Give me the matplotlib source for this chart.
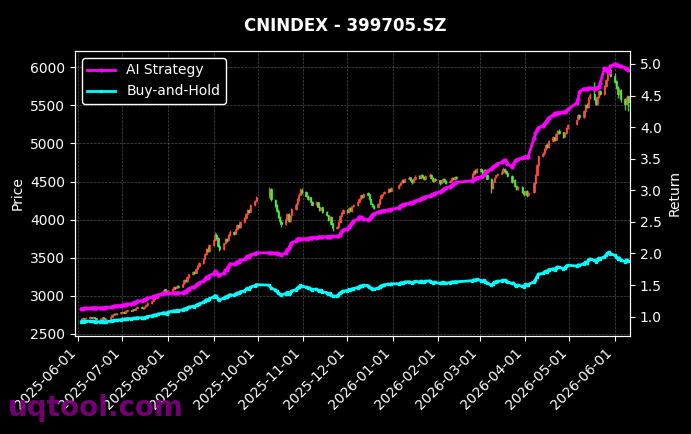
import numpy as np
import pandas as pd
import matplotlib
matplotlib.use("Agg")
import matplotlib.pyplot as plt
import matplotlib.dates as mdates

# trading calendar (SZ exchange holidays removed)
start_date = "2025-06-03"
end_date = "2026-06-10"
holidays = [
    "2025-10-01", "2025-10-02", "2025-10-03", "2025-10-06", "2025-10-07", "2025-10-08",
    "2026-01-01", "2026-01-02",
    "2026-02-16", "2026-02-17", "2026-02-18", "2026-02-19", "2026-02-20", "2026-02-23",
    "2026-04-06", "2026-05-01", "2026-05-04", "2026-05-05",
]

# daily OHLC, month by month
opens = [
    # 2025-06
    2683, 2694, 2709, 2703, 2715, 2725, 2712, 2721, 2705, 2694, 2702, 2716, 2706, 2691, 2700, 2727, 2751, 2763, 2757, 2771,
    # 2025-07
    2786, 2793, 2781, 2799, 2813, 2805, 2827, 2819, 2841, 2854, 2847, 2837, 2861, 2883, 2906, 2937, 2959, 2991, 2979, 3022, 3049, 3084, 3067,
    # 2025-08
    3041, 3059, 3092, 3113, 3106, 3129, 3120, 3163, 3209, 3196, 3247, 3282, 3319, 3303, 3357, 3392, 3429, 3488, 3549, 3613, 3590,
    # 2025-09
    3665, 3736, 3803, 3765, 3652, 3613, 3689, 3746, 3727, 3799, 3843, 3817, 3880, 3926, 3903, 3969, 4019, 4077, 4126, 4103, 4189, 4242,
    # 2025-10
    4305, 4400, 4262, 4188, 4118, 4035, 3975, 3948, 4015, 4070, 3982, 4055, 4136, 4200, 4268, 4330, 4395,
    # 2025-11
    4360, 4315, 4272, 4292, 4238, 4195, 4228, 4172, 4130, 4160, 4098, 4060, 3990, 4038, 3950, 3884, 3905, 3970, 4045, 4090,
    # 2025-12
    4128, 4100, 4150, 4118, 4176, 4190, 4238, 4277, 4320, 4298, 4344, 4332, 4266, 4210, 4178, 4160, 4212, 4278, 4320, 4344, 4367, 4400, 4382,
    # 2026-01
    4415, 4455, 4488, 4514, 4497, 4540, 4554, 4522, 4490, 4532, 4568, 4547, 4584, 4562, 4530, 4577, 4592, 4550, 4504, 4538,
    # 2026-02
    4515, 4477, 4500, 4534, 4512, 4488, 4514, 4547, 4530, 4562, 4552, 4600, 4644, 4622,
    # 2026-03
    4668, 4640, 4612, 4654, 4590, 4538, 4415, 4497, 4555, 4582, 4604, 4627, 4662, 4645, 4612, 4578, 4500, 4525, 4448, 4405, 4430, 4368,
    # 2026-04
    4342, 4375, 4320, 4360, 4485, 4592, 4715, 4838, 4870, 4928, 4982, 4955, 5038, 5085, 5048, 5122, 5170, 5145, 5092, 5138, 5200,
    # 2026-05
    5250, 5315, 5370, 5348, 5430, 5505, 5478, 5592, 5645, 5590, 5522, 5612, 5688, 5655, 5750, 5838, 5908, 5970,
    # 2026-06
    5890, 5815, 5738, 5652, 5705, 5590, 5522, 5618,
]
highs = [
    2703, 2716, 2714, 2721, 2734, 2728, 2728, 2725, 2711, 2708, 2722, 2719, 2710, 2705, 2732, 2757, 2769, 2770, 2776, 2792,
    2800, 2798, 2805, 2820, 2818, 2832, 2833, 2846, 2862, 2861, 2852, 2866, 2889, 2913, 2944, 2968, 2998, 3002, 3029, 3058, 3092, 3095, 3078,
    3072, 3099, 3124, 3121, 3137, 3140, 3170, 3219, 3226, 3255, 3292, 3330, 3331, 3365, 3402, 3440, 3498, 3562, 3625, 3640, 3676,
    3750, 3835, 3820, 3772, 3668, 3700, 3760, 3758, 3810, 3858, 3855, 3892, 3940, 3938, 3980, 4032, 4090, 4140, 4138, 4200, 4255, 4310,
    4430, 4415, 4275, 4210, 4135, 4050, 3995, 4030, 4088, 4082, 4065, 4150, 4215, 4282, 4345, 4420, 4410,
    4370, 4325, 4305, 4302, 4245, 4240, 4236, 4180, 4172, 4168, 4110, 4066, 4050, 4045, 3958, 3918, 3980, 4055, 4100, 4142,
    4140, 4165, 4162, 4185, 4200, 4250, 4288, 4330, 4328, 4355, 4360, 4340, 4275, 4222, 4190, 4225, 4290, 4332, 4356, 4380, 4412, 4415, 4428,
    4465, 4498, 4528, 4530, 4552, 4568, 4565, 4530, 4545, 4580, 4582, 4598, 4600, 4570, 4588, 4610, 4602, 4558, 4550, 4552,
    4525, 4510, 4545, 4548, 4522, 4525, 4558, 4555, 4572, 4575, 4612, 4655, 4660, 4680,
    4680, 4655, 4665, 4660, 4598, 4545, 4510, 4565, 4592, 4615, 4640, 4690, 4672, 4652, 4620, 4585, 4540, 4530, 4460, 4442, 4438, 4380,
    4395, 4388, 4370, 4498, 4605, 4728, 4850, 4885, 4940, 4995, 5010, 5050, 5098, 5090, 5135, 5182, 5188, 5150, 5148, 5212, 5262,
    5325, 5385, 5392, 5442, 5518, 5528, 5605, 5660, 5805, 5598, 5625, 5700, 5702, 5762, 5852, 5935, 6044, 5985,
    5920, 5830, 5760, 5725, 5712, 5600, 5640, 5625,
]
lows = [
    2675, 2687, 2695, 2697, 2709, 2704, 2706, 2701, 2686, 2688, 2696, 2701, 2683, 2683, 2695, 2721, 2745, 2749, 2751, 2764,
    2778, 2774, 2776, 2793, 2798, 2799, 2812, 2813, 2835, 2840, 2829, 2830, 2854, 2877, 2899, 2929, 2951, 2970, 2972, 3014, 3041, 3058, 3035,
    3030, 3050, 3083, 3094, 3097, 3108, 3112, 3155, 3186, 3188, 3238, 3272, 3290, 3295, 3348, 3383, 3420, 3478, 3538, 3575, 3578,
    3652, 3722, 3750, 3638, 3590, 3602, 3676, 3712, 3716, 3785, 3802, 3806, 3868, 3890, 3892, 3958, 4008, 4066, 4088, 4095, 4178, 4230,
    4290, 4250, 4170, 4105, 4018, 3962, 3905, 3935, 4002, 3970, 3968, 4040, 4122, 4188, 4250, 4318, 4340,
    4300, 4262, 4260, 4226, 4186, 4188, 4160, 4120, 4122, 4085, 4045, 3978, 3982, 3935, 3845, 3872, 3895, 3960, 4035, 4078,
    4082, 4090, 4108, 4105, 4162, 4180, 4228, 4268, 4285, 4288, 4318, 4255, 4200, 4162, 4140, 4150, 4205, 4268, 4310, 4335, 4356, 4368, 4372,
    4405, 4445, 4478, 4482, 4488, 4530, 4508, 4472, 4480, 4522, 4532, 4538, 4550, 4515, 4520, 4565, 4535, 4490, 4495, 4505,
    4460, 4465, 4490, 4498, 4470, 4478, 4505, 4515, 4522, 4535, 4540, 4590, 4605, 4610,
    4625, 4598, 4602, 4575, 4528, 4345, 4405, 4488, 4545, 4572, 4595, 4618, 4630, 4598, 4562, 4480, 4490, 4430, 4385, 4395, 4350, 4308,
    4330, 4298, 4305, 4352, 4472, 4580, 4702, 4820, 4855, 4915, 4938, 4945, 5025, 5030, 5040, 5110, 5130, 5078, 5080, 5128, 5188,
    5238, 5302, 5330, 5335, 5418, 5460, 5465, 5578, 5572, 5505, 5508, 5600, 5638, 5642, 5738, 5825, 5895, 5870,
    5790, 5712, 5598, 5630, 5548, 5440, 5505, 5430,
]
closes = [
    2695, 2708, 2702, 2714, 2726, 2711, 2720, 2706, 2693, 2701, 2715, 2707, 2690, 2699, 2726, 2750, 2762, 2756, 2770, 2785,
    2792, 2780, 2798, 2812, 2804, 2826, 2818, 2840, 2853, 2846, 2836, 2860, 2882, 2905, 2936, 2958, 2990, 2978, 3021, 3048, 3083, 3066, 3042,
    3058, 3091, 3112, 3105, 3128, 3119, 3162, 3208, 3195, 3246, 3281, 3318, 3302, 3356, 3391, 3428, 3487, 3548, 3612, 3589, 3664,
    3735, 3802, 3764, 3651, 3612, 3688, 3745, 3726, 3798, 3842, 3816, 3879, 3925, 3902, 3968, 4018, 4076, 4125, 4102, 4188, 4241, 4296,
    4405, 4268, 4185, 4120, 4032, 3978, 3946, 4012, 4068, 3985, 4052, 4134, 4198, 4265, 4328, 4392, 4358,
    4312, 4275, 4290, 4236, 4198, 4225, 4170, 4132, 4158, 4096, 4058, 3992, 4035, 3948, 3886, 3902, 3968, 4042, 4088, 4126,
    4098, 4152, 4120, 4174, 4188, 4236, 4275, 4318, 4296, 4342, 4330, 4268, 4212, 4176, 4158, 4210, 4276, 4318, 4342, 4365, 4398, 4380, 4412,
    4452, 4486, 4512, 4495, 4538, 4552, 4520, 4488, 4530, 4566, 4545, 4582, 4560, 4528, 4575, 4590, 4548, 4502, 4536, 4518,
    4475, 4498, 4532, 4510, 4486, 4512, 4545, 4528, 4560, 4548, 4598, 4642, 4620, 4665,
    4638, 4610, 4652, 4588, 4540, 4412, 4495, 4552, 4580, 4602, 4625, 4660, 4642, 4610, 4575, 4498, 4522, 4445, 4402, 4428, 4365, 4340,
    4372, 4318, 4356, 4482, 4590, 4712, 4835, 4868, 4925, 4980, 4952, 5036, 5082, 5045, 5120, 5168, 5142, 5090, 5135, 5198, 5246,
    5312, 5368, 5345, 5428, 5502, 5475, 5590, 5642, 5588, 5520, 5610, 5685, 5652, 5748, 5836, 5905, 5968, 5892,
    5812, 5735, 5650, 5702, 5588, 5520, 5615, 5548,
]

# cumulative return curves
ai_strategy = [
    1.125, 1.128, 1.130, 1.132, 1.134, 1.135, 1.136, 1.137, 1.137, 1.139, 1.142, 1.143, 1.143, 1.145, 1.150, 1.158, 1.164, 1.166, 1.170, 1.176,
    1.180, 1.182, 1.190, 1.198, 1.204, 1.214, 1.220, 1.232, 1.245, 1.252, 1.256, 1.268, 1.282, 1.294, 1.308, 1.318, 1.332, 1.330, 1.345, 1.356, 1.372, 1.374, 1.370,
    1.368, 1.370, 1.372, 1.372, 1.374, 1.372, 1.380, 1.395, 1.392, 1.420, 1.445, 1.470, 1.468, 1.495, 1.515, 1.535, 1.560, 1.590, 1.620, 1.612, 1.650,
    1.680, 1.715, 1.700, 1.665, 1.655, 1.690, 1.735, 1.745, 1.790, 1.835, 1.830, 1.850, 1.870, 1.865, 1.890, 1.910, 1.935, 1.955, 1.950, 1.975, 1.995, 2.010,
    2.010, 2.008, 2.005, 2.000, 1.995, 1.985, 1.975, 2.010, 2.060, 2.080, 2.120, 2.165, 2.200, 2.225, 2.235, 2.230, 2.232,
    2.232, 2.235, 2.240, 2.245, 2.250, 2.252, 2.255, 2.258, 2.262, 2.262, 2.265, 2.265, 2.268, 2.270, 2.270, 2.272, 2.275, 2.300, 2.340, 2.370,
    2.390, 2.420, 2.450, 2.480, 2.510, 2.540, 2.580, 2.575, 2.555, 2.540, 2.535, 2.545, 2.580, 2.610, 2.630, 2.655, 2.660, 2.665, 2.675, 2.680, 2.690, 2.695, 2.700,
    2.720, 2.745, 2.770, 2.775, 2.785, 2.792, 2.800, 2.805, 2.815, 2.830, 2.850, 2.865, 2.880, 2.885, 2.895, 2.910, 2.925, 2.935, 2.945, 2.955,
    2.975, 2.990, 3.010, 3.025, 3.040, 3.060, 3.080, 3.095, 3.110, 3.125, 3.150, 3.175, 3.185, 3.200,
    3.215, 3.230, 3.250, 3.280, 3.300, 3.340, 3.370, 3.385, 3.400, 3.420, 3.440, 3.465, 3.480, 3.455, 3.420, 3.370, 3.410, 3.460, 3.480, 3.490, 3.510, 3.525,
    3.530, 3.528, 3.532, 3.820, 3.900, 3.950, 3.990, 4.020, 4.050, 4.080, 4.110, 4.150, 4.190, 4.220, 4.215, 4.225, 4.230, 4.235, 4.240, 4.255, 4.280,
    4.380, 4.450, 4.560, 4.610, 4.605, 4.600, 4.612, 4.618, 4.610, 4.620, 4.615, 4.640, 4.700, 4.930, 4.925, 4.890, 4.880, 4.960,
    5.000, 4.990, 4.980, 4.970, 4.960, 4.940, 4.920, 4.900,
]
buy_and_hold = [
    0.919, 0.924, 0.922, 0.926, 0.930, 0.925, 0.928, 0.923, 0.919, 0.921, 0.926, 0.923, 0.918, 0.921, 0.930, 0.938, 0.942, 0.940, 0.945, 0.950,
    0.963, 0.959, 0.965, 0.970, 0.967, 0.974, 0.972, 0.979, 0.984, 0.981, 0.978, 0.986, 0.994, 1.002, 1.012, 1.020, 1.031, 1.027, 1.042, 1.051, 1.063, 1.057, 1.049,
    1.073, 1.085, 1.092, 1.089, 1.098, 1.094, 1.109, 1.126, 1.121, 1.139, 1.151, 1.164, 1.159, 1.178, 1.190, 1.203, 1.224, 1.245, 1.267, 1.259, 1.286,
    1.311, 1.334, 1.321, 1.281, 1.267, 1.294, 1.314, 1.307, 1.333, 1.348, 1.339, 1.361, 1.377, 1.369, 1.392, 1.410, 1.430, 1.447, 1.439, 1.469, 1.488, 1.507,
    1.498, 1.452, 1.423, 1.401, 1.371, 1.353, 1.342, 1.365, 1.384, 1.355, 1.378, 1.406, 1.428, 1.451, 1.472, 1.494, 1.482,
    1.467, 1.454, 1.459, 1.441, 1.428, 1.437, 1.418, 1.405, 1.414, 1.393, 1.380, 1.358, 1.372, 1.343, 1.322, 1.327, 1.350, 1.375, 1.390, 1.403,
    1.413, 1.432, 1.421, 1.439, 1.444, 1.461, 1.474, 1.489, 1.481, 1.497, 1.493, 1.472, 1.452, 1.440, 1.434, 1.452, 1.474, 1.489, 1.497, 1.505, 1.517, 1.510, 1.521,
    1.519, 1.531, 1.540, 1.534, 1.549, 1.554, 1.543, 1.532, 1.546, 1.558, 1.551, 1.564, 1.556, 1.545, 1.561, 1.567, 1.552, 1.537, 1.548, 1.542,
    1.527, 1.535, 1.547, 1.539, 1.531, 1.540, 1.551, 1.545, 1.556, 1.552, 1.569, 1.584, 1.577, 1.592,
    1.572, 1.563, 1.577, 1.555, 1.539, 1.496, 1.524, 1.543, 1.553, 1.560, 1.568, 1.580, 1.574, 1.563, 1.551, 1.525, 1.533, 1.507, 1.492, 1.501, 1.480, 1.471,
    1.513, 1.494, 1.507, 1.551, 1.588, 1.630, 1.673, 1.684, 1.704, 1.723, 1.714, 1.743, 1.758, 1.746, 1.772, 1.788, 1.779, 1.761, 1.777, 1.799, 1.815,
    1.801, 1.820, 1.812, 1.840, 1.865, 1.856, 1.895, 1.913, 1.894, 1.871, 1.902, 1.927, 1.916, 1.949, 1.978, 2.002, 2.023, 1.997,
    1.970, 1.944, 1.915, 1.933, 1.894, 1.871, 1.903, 1.881,
]

dates = pd.bdate_range(start_date, end_date)
dates = dates[~dates.isin(pd.to_datetime(holidays))]
x = mdates.date2num(dates)

o = np.array(opens)
h = np.array(highs)
l = np.array(lows)
c = np.array(closes)

up_color = "#ff5040"
down_color = "#50f040"
colors = np.where(c >= o, up_color, down_color)

fig = plt.figure(figsize=(6.91, 4.34), dpi=100, facecolor="black")
ax1 = fig.add_axes([0.1085, 0.226, 0.8035, 0.6565])
ax1.set_facecolor("black")

# candlesticks
ax1.vlines(x, l, h, colors=colors, linewidth=1.0, alpha=0.85)
ax1.bar(x, c - o, bottom=o, width=0.9, color=colors, edgecolor=colors, linewidth=0.6, alpha=0.85)

ax1.set_ylim(2474, 6214)
ax1.set_xlim(pd.Timestamp("2025-05-29 17:00"), pd.Timestamp("2026-06-11 12:00"))
ax1.set_ylabel("Price", color="white", fontsize=10)
ax1.grid(True, color="gray", linestyle="--", linewidth=0.5, alpha=0.6)

ax1.xaxis.set_major_locator(mdates.MonthLocator())
ax1.xaxis.set_major_formatter(mdates.DateFormatter("%Y-%m-%d"))
plt.setp(ax1.get_xticklabels(), rotation=45, ha="right")

# returns on the right axis
ax2 = ax1.twinx()
ax2.plot(dates, ai_strategy, color="magenta", linewidth=2, marker="o", markersize=2, label="AI Strategy")
ax2.plot(dates, buy_and_hold, color="cyan", linewidth=2, marker="s", markersize=2, label="Buy-and-Hold")
ax2.set_ylim(0.695, 5.205)
ax2.set_yticks(np.arange(1.0, 5.01, 0.5))
ax2.set_ylabel("Return", color="white", fontsize=10)

for ax in (ax1, ax2):
    ax.tick_params(colors="white", labelsize=10)
    for sp in ax.spines.values():
        sp.set_color("white")

leg = ax2.legend(loc="upper left", fontsize=10, facecolor="black", edgecolor="white", framealpha=1)
for t in leg.get_texts():
    t.set_color("white")

fig.suptitle("CNINDEX - 399705.SZ", color="white", fontsize=12, fontweight="bold", y=0.96)

# watermark
fig.text(0.012, 0.06, "uqtool.com", color="purple", fontsize=20, fontweight="bold", alpha=0.9, va="center", ha="left")

plt.savefig("out.png", dpi=100, facecolor="black")
